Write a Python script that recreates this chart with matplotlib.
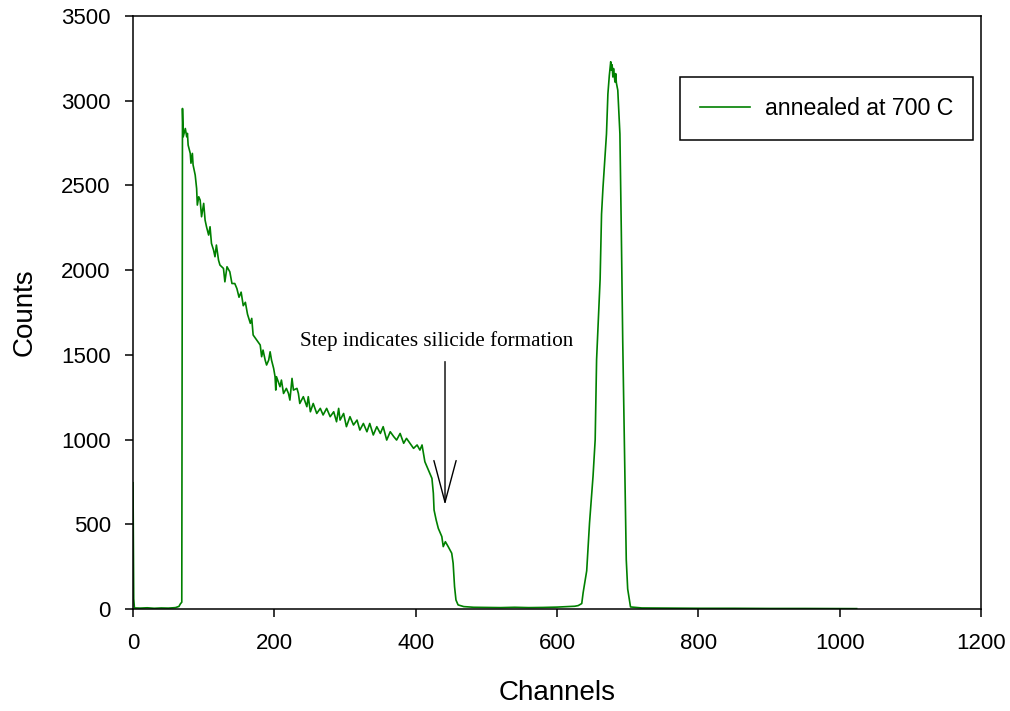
import matplotlib
matplotlib.use("Agg")
import matplotlib.pyplot as plt

# RBS spectrum, values (channel, counts)
ch_low = [0, 1, 2, 10, 20, 30, 40, 50, 60, 65, 67, 69]
cnt_low = [745, 60, 6, 5, 7, 4, 6, 5, 8, 15, 30, 40]

ch_decay = [70, 71, 74, 76, 77, 78, 81, 82, 84, 85, 88, 90, 91, 93, 95, 97, 100,
            102, 104, 107, 109, 111, 114, 116, 118, 121, 123, 128, 130, 133, 137,
            140, 144, 147, 150, 153, 156, 159, 162]
cnt_decay = [2954, 2787, 2836, 2787, 2807, 2738, 2689, 2631, 2689, 2621, 2561, 2482,
             2384, 2433, 2413, 2315, 2394, 2295, 2256, 2207, 2256, 2158, 2118, 2079,
             2148, 2059, 2030, 2010, 1931, 2020, 1990, 1921, 1921, 1891, 1840, 1870,
             1790, 1810, 1740]

ch_plateau = [166, 168, 170, 175, 180, 182, 184, 187, 189, 192, 194, 196, 199, 201,
              202, 203, 208, 210, 213, 217, 220, 222, 225, 227, 232, 234, 236, 241,
              246, 248, 251, 255, 260, 265, 269, 274, 279, 284, 288, 291, 293, 298,
              302, 307, 312, 317, 321, 326, 331, 335, 340, 345, 350, 354, 359, 364,
              369, 373, 378, 383, 387, 392, 397, 402, 406, 409, 411]
cnt_plateau = [1686, 1715, 1617, 1587, 1558, 1489, 1528, 1469, 1440, 1469, 1518, 1469,
               1420, 1371, 1292, 1371, 1312, 1351, 1272, 1302, 1272, 1233, 1361, 1292,
               1302, 1272, 1213, 1253, 1194, 1253, 1164, 1213, 1154, 1184, 1145, 1184,
               1135, 1164, 1105, 1184, 1115, 1154, 1076, 1135, 1086, 1115, 1056, 1095,
               1046, 1095, 1027, 1076, 1036, 1076, 997, 1046, 1017, 997, 1036, 978,
               1007, 978, 948, 968, 938, 968, 919]

ch_step = [413, 416, 418, 420, 423, 425, 426, 429, 432, 437, 439, 442, 446, 451,
           453, 455, 457, 460, 468, 482]
cnt_step = [869, 840, 820, 801, 771, 683, 584, 525, 476, 427, 368, 397, 368, 329,
            270, 132, 53, 24, 14, 10]

ch_gap = [500, 520, 540, 560, 580, 600, 615, 625, 630, 635]
cnt_gap = [9, 8, 10, 8, 9, 11, 14, 16, 20, 32]

ch_peak = [637, 642, 646, 651, 654, 656, 661, 663, 665, 670, 672, 674, 676, 677,
           678, 679, 680, 682, 683, 684, 686, 689, 691, 693, 696, 698, 700, 704]
cnt_peak = [97, 225, 507, 785, 999, 1472, 1947, 2330, 2484, 2804, 3040, 3148, 3230,
            3180, 3212, 3140, 3190, 3110, 3160, 3105, 3062, 2804, 2224, 1580, 826,
            290, 118, 12]

ch_tail = [720, 760, 800, 850, 900, 950, 1000, 1024]
cnt_tail = [6, 5, 4, 4, 3, 3, 2, 2]

channels = ch_low + ch_decay + ch_plateau + ch_step + ch_gap + ch_peak + ch_tail
counts = cnt_low + cnt_decay + cnt_plateau + cnt_step + cnt_gap + cnt_peak + cnt_tail

plt.rcParams['font.family'] = ['Liberation Sans', 'DejaVu Sans']

fig = plt.figure(figsize=(10.1, 7.11), dpi=100)
ax = fig.add_axes([0.1317, 0.1435, 0.8396, 0.834])

ax.plot(channels, counts, color='#008000', linewidth=1.2, label='annealed at 700 C')

ax.set_xlim(0, 1200)
ax.set_ylim(0, 3500)
ax.set_xticks(range(0, 1201, 200))
ax.set_yticks(range(0, 3501, 500))
ax.tick_params(direction='out', length=6, width=1.1, labelsize=16)
ax.tick_params(axis='y', pad=10)
ax.tick_params(axis='x', pad=11)
for sp in ax.spines.values():
    sp.set_linewidth(1.1)

ax.set_xlabel('Channels', fontsize=20, labelpad=19)
ax.set_ylabel('Counts', fontsize=20, labelpad=17)

# annotation for the silicide step
ax.text(430, 1582, 'Step indicates silicide formation', family='Liberation Serif',
        fontsize=15.2, ha='center', va='center')
ax.annotate('', xy=(441.5, 614), xytext=(441.5, 1460),
            arrowprops=dict(arrowstyle='->,head_length=3.0,head_width=0.8',
                            mutation_scale=10, color='black', linewidth=1.0,
                            shrinkA=0, shrinkB=0))

leg = ax.legend(loc='upper right', bbox_to_anchor=(0.9906, 0.897), fontsize=16.7,
                frameon=True, fancybox=False, edgecolor='black', framealpha=1,
                handlelength=2.15, borderpad=0.85, handletextpad=0.65, borderaxespad=0)
leg.get_frame().set_linewidth(1.1)

plt.savefig('out.png', dpi=100)
